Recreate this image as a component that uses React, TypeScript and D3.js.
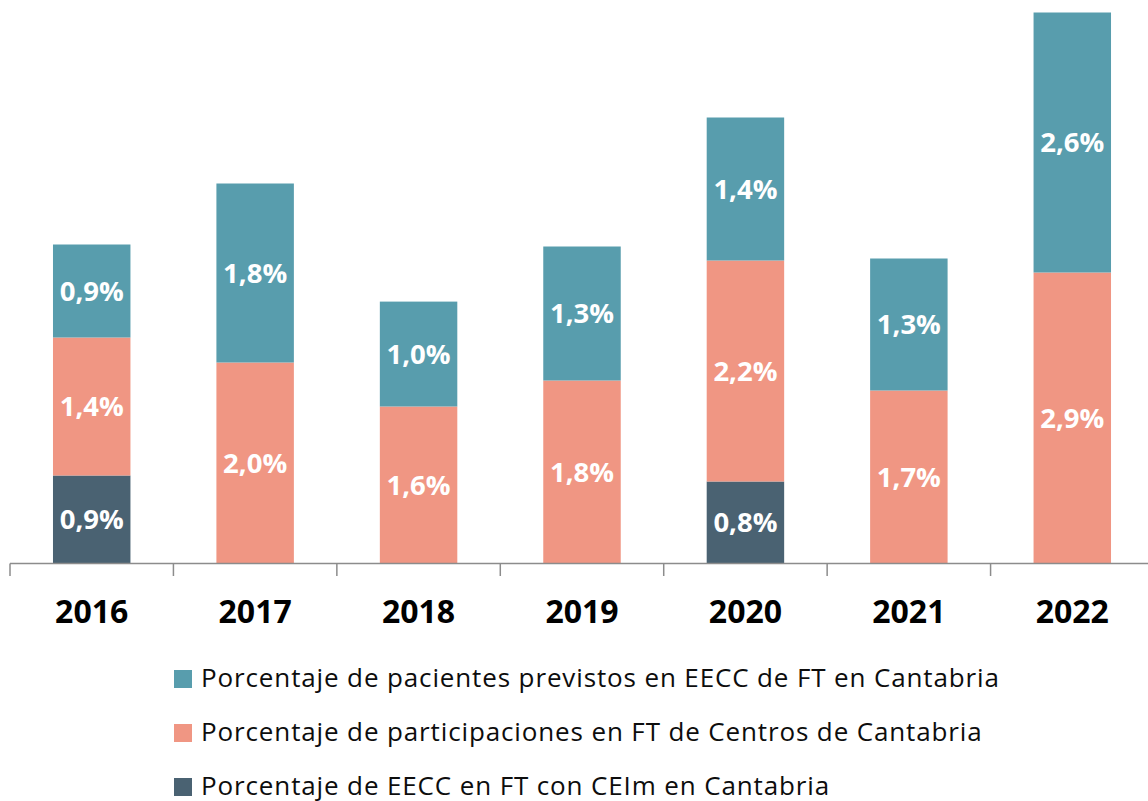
import React from "react";
import * as d3 from "d3";

const years = ["2016", "2017", "2018", "2019", "2020", "2021", "2022"];
const eeccCeim = [0.88, 0, 0, 0, 0.82, 0, 0];
const participaciones = [1.38, 2.01, 1.57, 1.83, 2.21, 1.73, 2.91];
const pacientes = [0.93, 1.79, 1.049, 1.34, 1.43, 1.32, 2.6];

const seriesNames = [
  "Porcentaje de pacientes previstos en EECC de FT en Cantabria",
  "Porcentaje de participaciones en FT de Centros de Cantabria",
  "Porcentaje de EECC en FT con CEIm en Cantabria",
];
const keys = ["eecc", "part", "pac"];
const colors: Record<string, string> = {
  pac: "#589DAD",
  part: "#F09683",
  eecc: "#4A6272",
};

const W = 1148;
const H = 801;
const FONT = "'Open Sans', sans-serif";

export default function App() {
  const rows = years.map((y, i) => ({
    year: y,
    eecc: eeccCeim[i],
    part: participaciones[i],
    pac: pacientes[i],
  }));
  const stacked = d3.stack<any>().keys(keys)(rows);

  const x = d3
    .scaleBand<string>()
    .domain(years)
    .range([10, 1154])
    .paddingInner(0.526)
    .paddingOuter(0.263);
  const step = x.step();
  const y = d3.scaleLinear().domain([0, 6]).range([563.5, 563.5 - 600]);

  const fmt = (v: number) => d3.format(".1f")(v).replace(".", ",") + "%";

  const legendKeys = ["pac", "part", "eecc"];

  return (
    <svg
      width={W}
      height={H}
      style={{ position: "absolute", left: 0, top: 0, background: "#fff" }}
    >
      {stacked.map((s) => (
        <g key={s.key}>
          {s.map((d, i) => {
            const v = d[1] - d[0];
            if (v <= 0) return null;
            const x0 = x(years[i])!;
            const y0 = y(d[1]);
            const h = y(d[0]) - y(d[1]);
            return (
              <g key={i}>
                <rect
                  x={x0}
                  y={y0}
                  width={x.bandwidth()}
                  height={h}
                  fill={colors[s.key]}
                />
                <text
                  x={x0 + x.bandwidth() / 2}
                  y={y0 + h / 2}
                  dy="0.36em"
                  textAnchor="middle"
                  fill="#fff"
                  fontFamily={FONT}
                  fontWeight="bold"
                  fontSize={27.5}
                >
                  {fmt(v)}
                </text>
              </g>
            );
          })}
        </g>
      ))}
      <g>
        <line
          x1={10}
          x2={1154}
          y1={y(0)}
          y2={y(0)}
          stroke="#8C8C8C"
          strokeWidth={1.5}
        />
        {d3.range(years.length + 1).map((i) => (
          <line
            key={i}
            x1={10 + i * step}
            x2={10 + i * step}
            y1={y(0)}
            y2={576}
            stroke="#8C8C8C"
            strokeWidth={1.5}
          />
        ))}
        {years.map((yr) => (
          <text
            key={yr}
            x={x(yr)! + x.bandwidth() / 2}
            y={623}
            textAnchor="middle"
            fontFamily={FONT}
            fontWeight="bold"
            fontSize={32}
            fill="#000"
          >
            {yr}
          </text>
        ))}
      </g>
      <g>
        {legendKeys.map((k, i) => (
          <g key={k} transform={`translate(174, ${670 + i * 54})`}>
            <rect x={0} y={0} width={18} height={18} fill={colors[k]} />
            <text
              x={27}
              y={16.5}
              fontFamily={FONT}
              fontSize={26}
              letterSpacing={0.87}
              fill="#0d0d0d"
            >
              {seriesNames[i]}
            </text>
          </g>
        ))}
      </g>
    </svg>
  );
}
